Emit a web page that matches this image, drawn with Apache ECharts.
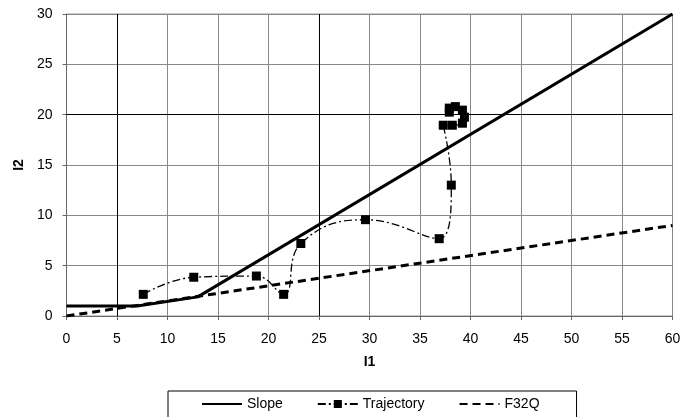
<!DOCTYPE html>
<html>
<head>
<meta charset="utf-8">
<script src="https://cdn.jsdelivr.net/npm/echarts@6/dist/echarts.min.js"></script>
<style>
html,body{margin:0;padding:0;background:#fff;}
#chart{width:691px;height:417px;}
</style>
</head>
<body>
<div id="chart"></div>
<script>
// Slope (solid thick polyline)
var slopeX = [0, 7, 13, 60];
var slopeY = [1, 1, 1.9, 30];
// Trajectory (dash-dot, square markers)
var trajX = [7.6, 12.6, 18.8, 21.5, 23.2, 29.6, 36.9, 38.1, 37.3, 38.2, 39.2, 39.4, 39.2, 38.5, 37.9, 37.9];
var trajY = [2.15, 3.85, 3.97, 2.15, 7.2, 9.57, 7.68, 13.0, 18.95, 18.95, 19.15, 19.75, 20.45, 20.8, 20.65, 20.25];
// F32Q (dashed)
var f32qX = [0, 60];
var f32qY = [0, 9];
// highlighted reference lines
var refX = [5, 25];
var refY = [20];
var legendNames = ['Slope', 'Trajectory', 'F32Q'];

function pairs(xs, ys){ return xs.map(function(x,i){return [x, ys[i]];}); }

var FONT = 'Liberation Sans';
var chart = echarts.init(document.getElementById('chart'), null, {renderer:'canvas'});
var refLines = refX.map(function(v){return {xAxis:v};}).concat(refY.map(function(v){return {yAxis:v};}));

chart.setOption({
  animation:false,
  backgroundColor:'#fff',
  textStyle:{fontFamily:FONT},
  grid:{left:66.5, right:18.5, top:14, bottom:101, show:true, borderColor:'#999', borderWidth:1},
  legend:{
    left:168, top:391,
    itemWidth:40, itemHeight:10, itemGap:34,
    padding:[6,37,30,33],
    borderColor:'#000', borderWidth:1,
    textStyle:{fontFamily:FONT, fontSize:14, color:'#000'},
    data:[
      {name:legendNames[0], itemStyle:{opacity:0}},
      {name:legendNames[1]},
      {name:legendNames[2], itemStyle:{opacity:0}}
    ]
  },
  xAxis:{
    type:'value', min:0, max:60, interval:5,
    name:'I1', nameLocation:'middle', nameGap:39,
    nameTextStyle:{fontFamily:FONT, fontSize:14, fontWeight:'bold', color:'#000'},
    axisLine:{show:true, lineStyle:{color:'#666', width:1}},
    axisTick:{show:true, length:4, lineStyle:{color:'#666'}},
    axisLabel:{fontFamily:FONT, fontSize:14, color:'#000', margin:16},
    splitLine:{show:true, lineStyle:{color:'#888', width:1}}
  },
  yAxis:{
    type:'value', min:0, max:30, interval:5,
    name:'I2', nameLocation:'middle', nameGap:38, nameRotate:90,
    nameTextStyle:{fontFamily:FONT, fontSize:14, fontWeight:'bold', color:'#000'},
    axisLine:{show:true, lineStyle:{color:'#666', width:1}},
    axisTick:{show:true, length:4, lineStyle:{color:'#666'}},
    axisLabel:{fontFamily:FONT, fontSize:14, color:'#000', margin:14},
    splitLine:{show:true, lineStyle:{color:'#888', width:1}}
  },
  series:[
    {
      name:'Slope', type:'line', data:pairs(slopeX, slopeY),
      symbol:'none', color:'#000',
      lineStyle:{color:'#000', width:3},
      markLine:{silent:true, symbol:'none', label:{show:false}, animation:false,
        lineStyle:{color:'#000', width:1, type:'solid'}, data:refLines},
      z:3
    },
    {
      name:'Trajectory', type:'line', data:pairs(trajX, trajY),
      smooth:0.45, symbol:'rect', symbolSize:9, showSymbol:true,
      color:'#000',
      itemStyle:{color:'#000'},
      lineStyle:{color:'#000', width:1.3, type:[8,3,2,3]},
      z:4
    },
    {
      name:'F32Q', type:'line', data:pairs(f32qX, f32qY),
      symbol:'none', color:'#000',
      lineStyle:{color:'#000', width:3, type:[8,5]},
      z:3
    }
  ]
});
</script>
</body>
</html>
